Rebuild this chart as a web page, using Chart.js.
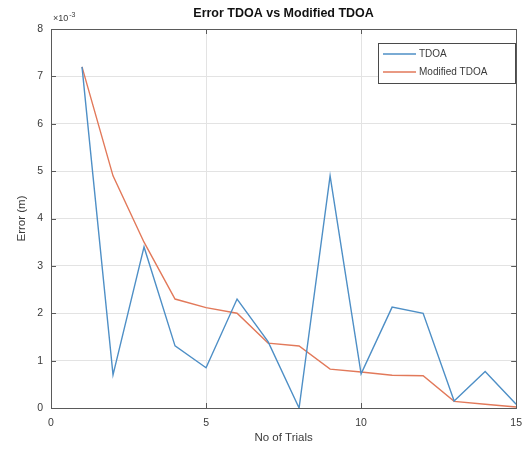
<!DOCTYPE html>
<html>
<head>
<meta charset="utf-8">
<script src="https://cdn.jsdelivr.net/npm/chart.js@4"></script>
<style>
  html, body { margin: 0; padding: 0; background: #ffffff; }
  #wrap { width: 531px; height: 455px; }
</style>
</head>
<body>
<div id="wrap"><canvas id="c" width="531" height="455"></canvas></div>
<script>
// Data (error values in units of 1e-3 m)
const trials = [1, 2, 3, 4, 5, 6, 7, 8, 9, 10, 11, 12, 13, 14, 15];
const tdoaError = [7.2, 0.70, 3.40, 1.31, 0.85, 2.30, 1.40, 0.00, 4.90, 0.72, 2.13, 2.00, 0.15, 0.77, 0.08];
const modifiedTdoaError = [7.2, 4.90, 3.50, 2.30, 2.12, 2.00, 1.37, 1.31, 0.82, 0.76, 0.69, 0.68, 0.14, 0.08, 0.02];
const seriesLabels = ['TDOA', 'Modified TDOA'];
const xTicks = [0, 5, 10, 15];
const yTicks = [0, 1, 2, 3, 4, 5, 6, 7, 8];
const chartTitle = 'Error TDOA vs Modified TDOA';
const xTitle = 'No of Trials';
const yTitle = 'Error (m)';
const exponentLabel = '10';
const exponentPower = '-3';

const FONT = '"Liberation Sans", Arial, Helvetica, sans-serif';
const textColor = '#3a3a3a';

const toPoints = arr => trials.map((t, i) => ({ x: t, y: arr[i] }));

const matlabPlugin = {
  id: 'matlabDecor',
  afterDraw(chart) {
    const ctx = chart.ctx;
    const a = chart.chartArea;
    const xs = chart.scales.x, ys = chart.scales.y;
    ctx.save();
    // box
    ctx.strokeStyle = '#5a5a5a';
    ctx.lineWidth = 1;
    ctx.strokeRect(Math.round(a.left) + 0.5, Math.round(a.top) + 0.5,
                   Math.round(a.right - a.left), Math.round(a.bottom - a.top));
    // inward ticks
    ctx.beginPath();
    xTicks.forEach(v => {
      const px = Math.round(xs.getPixelForValue(v)) + 0.5;
      ctx.moveTo(px, a.bottom); ctx.lineTo(px, a.bottom - 5);
      ctx.moveTo(px, a.top); ctx.lineTo(px, a.top + 5);
    });
    yTicks.forEach(v => {
      const py = Math.round(ys.getPixelForValue(v)) + 0.5;
      ctx.moveTo(a.left, py); ctx.lineTo(a.left + 5, py);
      ctx.moveTo(a.right, py); ctx.lineTo(a.right - 5, py);
    });
    ctx.stroke();

    // title
    ctx.fillStyle = '#111111';
    ctx.font = 'bold 12.5px ' + FONT;
    ctx.textAlign = 'center';
    ctx.textBaseline = 'middle';
    ctx.fillText(chartTitle, (a.left + a.right) / 2, 14);

    // exponent label
    ctx.fillStyle = textColor;
    ctx.textAlign = 'left';
    ctx.font = '9px ' + FONT;
    ctx.fillText('\u00d7' + exponentLabel, a.left + 2, 19);
    const w = ctx.measureText('\u00d7' + exponentLabel).width;
    ctx.font = '7px ' + FONT;
    ctx.fillText(exponentPower, a.left + 2 + w + 1, 15);

    // legend
    const lx = 378, ly = 43, lw = 137, lh = 40;
    ctx.fillStyle = '#ffffff';
    ctx.fillRect(lx, ly, lw, lh);
    ctx.strokeStyle = '#4a4a4a';
    ctx.lineWidth = 1;
    ctx.strokeRect(lx + 0.5, ly + 0.5, lw, lh);
    ctx.font = '10px ' + FONT;
    ctx.textBaseline = 'middle';
    chart.data.datasets.forEach((ds, i) => {
      const y = ly + 11 + i * 18;
      ctx.strokeStyle = ds.borderColor;
      ctx.lineWidth = ds.borderWidth;
      ctx.beginPath();
      ctx.moveTo(lx + 5, y); ctx.lineTo(lx + 38, y);
      ctx.stroke();
      ctx.fillStyle = textColor;
      ctx.fillText(ds.label, lx + 41, y);
    });
    ctx.restore();
  }
};

new Chart(document.getElementById('c'), {
  type: 'line',
  data: {
    datasets: [
      {
        label: seriesLabels[0],
        data: toPoints(tdoaError),
        borderColor: '#4e8fc6',
        borderWidth: 1.4,
        pointRadius: 0,
        tension: 0,
        fill: false
      },
      {
        label: seriesLabels[1],
        data: toPoints(modifiedTdoaError),
        borderColor: '#e2795a',
        borderWidth: 1.4,
        pointRadius: 0,
        tension: 0,
        fill: false
      }
    ]
  },
  options: {
    responsive: false,
    animation: false,
    layout: { padding: { top: 29, right: 10, left: 0, bottom: 0 } },
    plugins: {
      legend: { display: false },
      title: { display: false },
      tooltip: { enabled: false }
    },
    scales: {
      x: {
        type: 'linear',
        min: 0, max: 15,
        afterBuildTicks: s => { s.ticks = xTicks.map(v => ({ value: v })); },
        afterFit: s => { s.height = 47; },
        grid: { color: '#e3e3e3', drawTicks: false },
        border: { display: false },
        ticks: { color: textColor, font: { family: FONT, size: 10.5 }, padding: 9, maxRotation: 0 },
        title: { display: true, text: xTitle, color: textColor, font: { family: FONT, size: 11.5 }, padding: { top: 10, bottom: 10 } }
      },
      y: {
        type: 'linear',
        min: 0, max: 8,
        afterBuildTicks: s => { s.ticks = yTicks.map(v => ({ value: v })); },
        afterFit: s => { s.width = 51; },
        grid: { color: '#e3e3e3', drawTicks: false },
        border: { display: false },
        ticks: { color: textColor, font: { family: FONT, size: 10.5 }, padding: 8 },
        title: { display: true, text: yTitle, color: textColor, font: { family: FONT, size: 11.5 }, padding: { top: 15, bottom: 0 } }
      }
    }
  },
  plugins: [matlabPlugin]
});
</script>
</body>
</html>
